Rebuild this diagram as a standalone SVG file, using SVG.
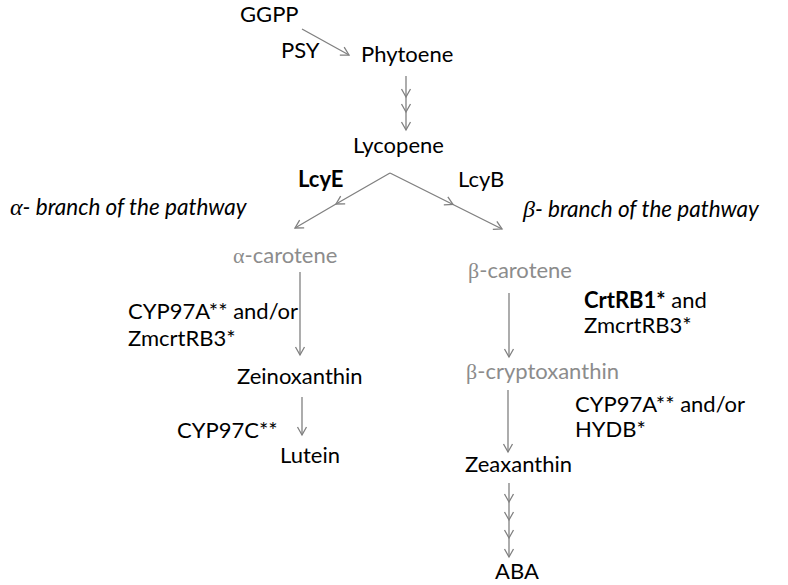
<svg xmlns="http://www.w3.org/2000/svg" width="788" height="585" viewBox="0 0 788 585">
<style>
text{font-family:Lato,"Liberation Sans",sans-serif;font-size:22px;fill:#000}
.g{fill:#8c8c8c}
.b{font-weight:bold}
.i{font-style:italic;font-size:22.5px}
.gr{font-family:"Liberation Serif",serif;font-style:italic;font-size:24px}
.sy{font-family:"Liberation Serif",serif}
.c{fill:none;stroke:#808080;stroke-width:1.3}
</style>
<defs>
<marker id="ah" markerWidth="12" markerHeight="12" refX="9" refY="5" orient="auto" markerUnits="userSpaceOnUse" viewBox="0 0 12 10">
<path d="M1,0.5 L9,5 L1,9.5" fill="none" stroke="#808080" stroke-width="1.3"/>
</marker>
</defs>
<rect width="788" height="585" fill="#fff"/>
<g id="connectors">
<path class="c" d="M302,29 L349,55" marker-end="url(#ah)"/>
<path class="c" d="M406,76 L406,97 L406,112 L406,130" marker-mid="url(#ah)" marker-end="url(#ah)"/>
<path class="c" d="M390,173 L336,204 L295,228" marker-mid="url(#ah)" marker-end="url(#ah)"/>
<path class="c" d="M390,173 L453,204.5 L502,229" marker-mid="url(#ah)" marker-end="url(#ah)"/>
<path class="c" d="M300,272 L300,355" marker-end="url(#ah)"/>
<path class="c" d="M302,397 L302,435" marker-end="url(#ah)"/>
<path class="c" d="M509,293 L509,357" marker-end="url(#ah)"/>
<path class="c" d="M508,390 L508,452" marker-end="url(#ah)"/>
<path class="c" d="M509,483 L509,502 L509,520 L509,538 L509,557" marker-mid="url(#ah)" marker-end="url(#ah)"/>
</g>
<g id="ggpp"><text x="240" y="22">GGPP</text></g>
<g id="psy"><text x="281" y="58">PSY</text></g>
<g id="phytoene"><text x="361" y="62">Phytoene</text></g>
<g id="lycopene"><text x="353" y="153">Lycopene</text></g>
<g id="lcye"><text class="b" x="298" y="187">LcyE</text></g>
<g id="lcyb"><text x="458" y="187">LcyB</text></g>
<g id="alpha-branch"><text class="i" x="10" y="215"><tspan class="gr">α</tspan>- branch of the pathway</text></g>
<g id="beta-branch"><text class="i" x="523" y="217"><tspan class="gr">β</tspan>- branch of the pathway</text></g>
<g id="alpha-carotene"><text class="g" x="233" y="263"><tspan class="sy">α</tspan>-carotene</text></g>
<g id="beta-carotene"><text class="g" x="468" y="278"><tspan class="sy">β</tspan>-carotene</text></g>
<g id="cyp97a-left"><text x="128" y="319">CYP97A** and/or</text><text x="128" y="346">ZmcrtRB3*</text></g>
<g id="crtrb1"><text x="584" y="308"><tspan class="b">CrtRB1*</tspan> and</text><text x="584" y="333">ZmcrtRB3*</text></g>
<g id="beta-cryptoxanthin"><text class="g" x="466" y="379"><tspan class="sy">β</tspan>-cryptoxanthin</text></g>
<g id="zeinoxanthin"><text x="237" y="384">Zeinoxanthin</text></g>
<g id="cyp97a-right"><text x="575" y="412">CYP97A** and/or</text><text x="575" y="437">HYDB*</text></g>
<g id="cyp97c"><text x="177" y="438">CYP97C**</text></g>
<g id="lutein"><text x="280" y="463">Lutein</text></g>
<g id="zeaxanthin"><text x="465" y="472">Zeaxanthin</text></g>
<g id="aba"><text x="495" y="579">ABA</text></g>
</svg>
